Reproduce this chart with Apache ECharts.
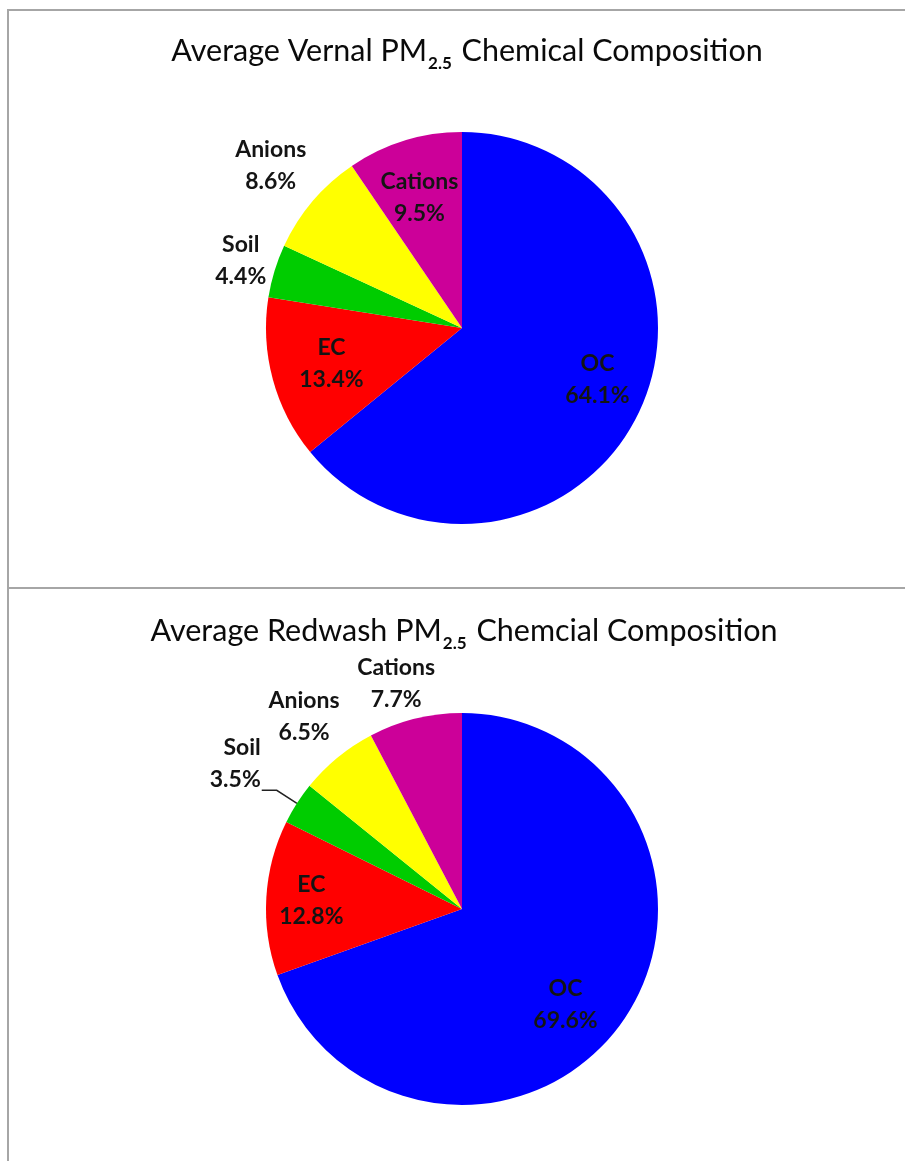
<!DOCTYPE html>
<html>
<head>
<meta charset="utf-8">
<script src="https://cdn.jsdelivr.net/npm/echarts@6/dist/echarts.min.js"></script>
<style>
  html, body { margin: 0; padding: 0; background: #fff; overflow: hidden; }
  #wrap { position: relative; width: 905px; height: 1161px; }
  #chart { position: absolute; left: 0; top: 0; width: 905px; height: 1161px; }
  .panel { position: absolute; left: 7px; width: 930px; border: 2px solid #a6a6a6; border-right: none; box-sizing: border-box; }
</style>
</head>
<body>
<div id="wrap">
  <div class="panel" style="top:9px;height:580px;"></div>
  <div class="panel" style="top:587px;height:600px;"></div>
  <div id="chart"></div>
</div>
<script>
// ---- data ----
const categories = ['OC', 'EC', 'Soil', 'Anions', 'Cations'];
const vernalValues = [64.1, 13.4, 4.4, 8.6, 9.5];
const redwashValues = [69.6, 12.8, 3.5, 6.5, 7.7];
const titles = ['Average Vernal PM', 'Average Redwash PM'];
const titleTails = [' Chemical Composition', ' Chemcial Composition'];
const subscript = '2.5';

// ---- style / layout ----
const colors = ['#0000FF', '#FF0000', '#00CC00', '#FFFF00', '#CC0099'];
const R = 196;
const centers = [[462, 328], [462, 909]];
// radial distance of each label centre, as a fraction of the radius
const labelRadius = [
  [0.74, 0.69, 1.18, 1.28, 0.70],
  [0.72, 0.77, 1.38, 1.27, 1.20]
];
// small angular nudge of each label (degrees, clockwise)
const labelTurn = [
  [-4.5, 0, 0, 0, -1],
  [7.7, 0, 0, 0, -2.4]
];
const leaderItem = [null, 2]; // bottom chart: Soil has a leader line

const chart = echarts.init(document.getElementById('chart'), null, { renderer: 'canvas' });

function makeSeries(values, s) {
  const c = centers[s];
  return {
    type: 'pie',
    center: [c[0], c[1]],
    radius: [0, R],
    startAngle: 90,
    clockwise: true,
    animation: false,
    silent: true,
    itemStyle: { borderWidth: 0 },
    label: {
      show: true,
      position: 'inside',
      formatter: p => p.name + '\n' + p.value.toFixed(1) + '%',
      fontFamily: 'Lato',
      fontWeight: 'bold',
      fontSize: 23,
      lineHeight: 32,
      color: '#141414',
      align: 'center'
    },
    labelLine: { show: false },
    labelLayout: function (p) {
      const i = p.dataIndex;
      const f = labelRadius[s][i];
      if (leaderItem[s] === i && p.labelLinePoints) {
        const p0 = p.labelLinePoints[0];
        const vx = p0[0] - c[0], vy = p0[1] - c[1];
        const d = Math.hypot(vx, vy);
        const ux = vx / d, uy = vy / d;
        const p1 = [p0[0] + ux * 24, p0[1] + uy * 24];
        const p2 = [p1[0] - 15, p1[1]];
        return {
          x: p2[0] - 1, y: p2[1] + 5,
          align: 'right', verticalAlign: 'bottom',
          labelLinePoints: [p0, p1, p2]
        };
      }
      const lr = p.labelRect;
      const cx = lr.x + lr.width / 2, cy = lr.y + lr.height / 2;
      let vx = cx - c[0], vy = cy - c[1];
      const d = Math.hypot(vx, vy) || 1;
      vx /= d; vy /= d;
      const a = labelTurn[s][i] * Math.PI / 180;
      const rx = vx * Math.cos(a) - vy * Math.sin(a);
      const ry = vx * Math.sin(a) + vy * Math.cos(a);
      const tx = c[0] + rx * f * R, ty = c[1] + ry * f * R;
      return { dx: tx - cx, dy: ty - cy };
    },
    data: values.map((v, i) => {
      const item = { name: categories[i], value: v, itemStyle: { color: colors[i] } };
      if (leaderItem[s] === i) {
        item.label = { position: 'outside', align: 'right' };
        item.labelLine = { show: true, length: 24, length2: 15, lineStyle: { color: '#222', width: 1.5 } };
      }
      return item;
    })
  };
}

function makeTitle(s, top) {
  return {
    text: '{a|' + titles[s] + '}{s|' + subscript + '}{a|' + titleTails[s] + '}',
    left: s === 0 ? 462 : 459,
    textAlign: 'center',
    top: top,
    textStyle: {
      rich: {
        a: { fontFamily: 'Lato', fontSize: 30.5, color: '#0a0a0a', fontWeight: 'normal', lineHeight: 36, verticalAlign: 'top' },
        s: { fontFamily: 'Lato', fontSize: 17, color: '#0a0a0a', lineHeight: 16, verticalAlign: 'bottom', padding: [20, 2, 0, 1] }
      }
    }
  };
}

chart.setOption({
  backgroundColor: 'transparent',
  animation: false,
  title: [makeTitle(0, 31), makeTitle(1, 611)],
  series: [makeSeries(vernalValues, 0), makeSeries(redwashValues, 1)]
});
</script>
</body>
</html>
